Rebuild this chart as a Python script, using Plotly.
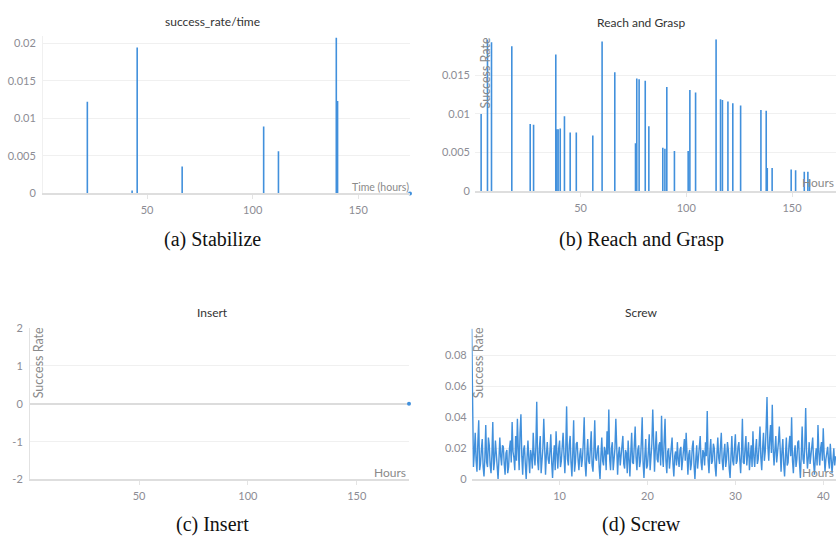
import plotly.graph_objects as go

# ---------------- data ----------------
# (a) Stabilize: spikes (hour, success rate)
a_hours = [21.7, 42.9, 45.3, 66.6, 105.2, 112.2, 139.6, 140.2]
a_rate = [0.0122, 0.0004, 0.0194, 0.0036, 0.0089, 0.0056, 0.0207, 0.0123]
a_end_hour = [174.5]
a_end_rate = [0.0]

# (b) Reach and Grasp
b_hours = [3.0, 6.0, 7.9, 17.5, 26.2, 27.8, 38.3, 38.8, 39.4, 40.4, 42.4, 45.1, 48.0,
           55.8, 60.2, 66.2, 76.0, 76.6, 77.7, 80.6, 82.3, 88.9, 89.9, 90.8, 94.4,
           100.9, 101.7, 104.4, 114.1, 116.2, 117.1, 119.7, 122.0, 125.7, 135.3,
           137.8, 138.3, 140.6, 149.6, 151.7, 155.8, 157.5, 158.3]
b_rate = [0.0100, 0.0197, 0.0193, 0.0188, 0.0087, 0.0086, 0.0177, 0.0080, 0.0080, 0.0081,
          0.0097, 0.0076, 0.0076, 0.0072, 0.0194, 0.0154, 0.0062, 0.0146, 0.0145, 0.0143,
          0.0084, 0.0056, 0.0055, 0.0135, 0.0052, 0.0052, 0.0131, 0.0128, 0.0197, 0.0119,
          0.0118, 0.0116, 0.0114, 0.0111, 0.0105, 0.0104, 0.0030, 0.0030, 0.0028, 0.0027,
          0.0025, 0.0025, 0.0015]

# (c) Insert
c_hours = [174.0]
c_rate = [0.0]

# (d) Screw: sampled every 0.1 hours (one row per hour)
d_rate = [
    0.097, 0.030, 0.008, 0.017, 0.030, 0.012, 0.005, 0.024, 0.038, 0.006,
    0.010, 0.019, 0.026, 0.008, 0.002, 0.014, 0.035, 0.011, 0.008, 0.027,
    0.022, 0.009, 0.004, 0.016, 0.037, 0.006, 0.012, 0.025, 0.018, 0.007,
    0.000, 0.013, 0.027, 0.015, 0.009, 0.022, 0.021, 0.010, 0.003, 0.017,
    0.019, 0.004, 0.008, 0.020, 0.025, 0.011, 0.037, 0.018, 0.014, 0.006,
    0.028, 0.012, 0.039, 0.020, 0.006, 0.030, 0.042, 0.015, 0.003, 0.019,
    0.022, 0.010, 0.000, 0.014, 0.025, 0.013, 0.004, 0.019, 0.015, 0.007,
    0.030, 0.016, 0.009, 0.021, 0.050, 0.012, 0.006, 0.020, 0.028, 0.004,
    0.012, 0.020, 0.039, 0.008, 0.003, 0.016, 0.024, 0.013, 0.010, 0.018,
    0.029, 0.011, 0.001, 0.014, 0.022, 0.006, 0.031, 0.017, 0.007, 0.020,
    0.025, 0.008, 0.012, 0.021, 0.030, 0.016, 0.004, 0.019, 0.047, 0.013,
    0.009, 0.022, 0.028, 0.011, 0.002, 0.017, 0.038, 0.005, 0.011, 0.023,
    0.024, 0.013, 0.006, 0.016, 0.020, 0.008, 0.013, 0.024, 0.040, 0.010,
    0.002, 0.015, 0.026, 0.012, 0.010, 0.020, 0.031, 0.009, 0.005, 0.018,
    0.038, 0.014, 0.012, 0.019, 0.022, 0.008, 0.000, 0.015, 0.027, 0.012,
    0.009, 0.021, 0.018, 0.006, 0.031, 0.016, 0.045, 0.013, 0.006, 0.020,
    0.024, 0.006, 0.011, 0.020, 0.039, 0.012, 0.003, 0.016, 0.021, 0.009,
    0.014, 0.023, 0.028, 0.010, 0.007, 0.019, 0.017, 0.004, 0.025, 0.013,
    0.002, 0.017, 0.030, 0.011, 0.010, 0.022, 0.034, 0.014, 0.006, 0.019,
    0.022, 0.008, 0.012, 0.024, 0.040, 0.011, 0.001, 0.015, 0.026, 0.007,
    0.009, 0.018, 0.029, 0.006, 0.014, 0.023, 0.045, 0.012, 0.005, 0.020,
    0.031, 0.013, 0.011, 0.022, 0.024, 0.009, 0.041, 0.016, 0.008, 0.025,
    0.039, 0.012, 0.004, 0.018, 0.020, 0.007, 0.013, 0.022, 0.027, 0.010,
    0.002, 0.015, 0.018, 0.009, 0.024, 0.013, 0.008, 0.019, 0.021, 0.006,
    0.011, 0.019, 0.026, 0.012, 0.030, 0.014, 0.003, 0.016, 0.019, 0.006,
    0.010, 0.021, 0.025, 0.009, 0.000, 0.013, 0.022, 0.007, 0.014, 0.024,
    0.028, 0.011, 0.006, 0.019, 0.017, 0.009, 0.024, 0.015, 0.044, 0.012,
    0.004, 0.018, 0.026, 0.010, 0.012, 0.023, 0.020, 0.008, 0.002, 0.016,
    0.027, 0.014, 0.010, 0.021, 0.030, 0.012, 0.006, 0.017, 0.023, 0.008,
    0.013, 0.024, 0.019, 0.007, 0.001, 0.015, 0.028, 0.012, 0.009, 0.020,
    0.029, 0.010, 0.012, 0.021, 0.024, 0.013, 0.004, 0.017, 0.039, 0.011,
    0.010, 0.020, 0.028, 0.009, 0.015, 0.024, 0.006, 0.014, 0.022, 0.008,
    0.031, 0.015, 0.008, 0.019, 0.026, 0.010, 0.013, 0.022, 0.034, 0.014,
    0.006, 0.020, 0.030, 0.012, 0.018, 0.033, 0.053, 0.021, 0.012, 0.026,
    0.035, 0.017, 0.048, 0.020, 0.009, 0.019, 0.028, 0.011, 0.016, 0.024,
    0.034, 0.012, 0.005, 0.018, 0.026, 0.010, 0.002, 0.015, 0.027, 0.009,
    0.011, 0.022, 0.028, 0.015, 0.040, 0.012, 0.004, 0.017, 0.022, 0.008,
    0.013, 0.024, 0.025, 0.010, 0.001, 0.016, 0.034, 0.013, 0.010, 0.021,
    0.046, 0.018, 0.007, 0.014, 0.024, 0.010, 0.016, 0.025, 0.027, 0.011,
    0.003, 0.014, 0.020, 0.009, 0.035, 0.017, 0.009, 0.020, 0.024, 0.012,
    0.033, 0.016, 0.005, 0.013, 0.018, 0.021, 0.012, 0.007, 0.023, 0.014,
    0.004, 0.012, 0.020, 0.009, 0.015,
]
d_hours = [round(i * 0.1, 1) for i in range(len(d_rate))]

titles = ["success_rate/time", "Reach and Grasp", "Insert", "Screw"]
captions = ["(a) Stabilize", "(b) Reach and Grasp", "(c) Insert", "(d) Screw"]

# ---------------- figure ----------------
W, H = 836, 546
BLUE = "#4190dc"
TICKC = "#8c8c94"
GRID = "#f0f0f0"


def px(x):
    return x / W


def py(y):
    return 1 - y / H


def spikes(hs, vs):
    xs, ys = [], []
    for h, v in zip(hs, vs):
        xs += [h, h, None]
        ys += [0, v, None]
    return xs, ys


fig = go.Figure()

ax, ay = spikes(a_hours, a_rate)
fig.add_trace(go.Scatter(x=ax, y=ay, mode="lines", line=dict(color=BLUE, width=1.6),
                         xaxis="x", yaxis="y", hoverinfo="skip"))
fig.add_trace(go.Scatter(x=a_end_hour, y=a_end_rate, mode="markers",
                         marker=dict(color=BLUE, size=4), cliponaxis=False,
                         xaxis="x", yaxis="y"))

bx, by = spikes(b_hours, b_rate)
fig.add_trace(go.Scatter(x=bx, y=by, mode="lines", line=dict(color=BLUE, width=1.6),
                         xaxis="x2", yaxis="y2", hoverinfo="skip"))

fig.add_trace(go.Scatter(x=c_hours, y=c_rate, mode="markers",
                         marker=dict(color=BLUE, size=4), cliponaxis=False,
                         xaxis="x3", yaxis="y3"))

fig.add_trace(go.Scatter(x=d_hours, y=d_rate, mode="lines", line=dict(color=BLUE, width=1.4),
                         xaxis="x4", yaxis="y4", hoverinfo="skip"))

tickfont = dict(family="Lato", size=11, color=TICKC)


def xax(dom, rng, tv, anchor):
    return dict(domain=dom, range=rng, tickvals=tv, showgrid=False, zeroline=False,
                showline=True, linecolor="#dedede", linewidth=1.5, ticks="outside",
                ticklen=4, tickcolor="#e4e4e4", tickfont=tickfont, anchor=anchor,
                layer="above traces", ticklabelstandoff=2)


def yax(dom, rng, dtick, anchor, line=False, tickvals=None, ticktext=None):
    d = dict(domain=dom, range=rng, showgrid=True, gridcolor=GRID, zeroline=False,
             showline=line, linecolor="#e2e2e2", ticks="", tickfont=tickfont,
             anchor=anchor, ticklabelstandoff=4)
    if tickvals is not None:
        d.update(tickvals=tickvals, ticktext=ticktext)
    else:
        d.update(dtick=dtick, tick0=0)
    return d


fig.update_layout(
    width=W, height=H, margin=dict(l=0, r=0, t=0, b=0),
    paper_bgcolor="white", plot_bgcolor="white", showlegend=False,
    xaxis=xax([px(43), px(410)], [0.7, 174.5], [50, 100, 150], "y"),
    yaxis=yax([py(191), py(30)], [0, 0.0209], 0.005, "x", line=True),
    xaxis2=xax([px(475), px(836)], [0.1, 170.8], [50, 100, 150], "y2"),
    yaxis2=yax([py(188.5), py(33)], [0, 0.0197], 0.005, "x2"),
    xaxis3=xax([px(30), px(409)], [-0.1, 174.0], [50, 100, 150], "y3"),
    yaxis3=yax([py(484), py(329)], [-2, 2], 1, "x3", line=True,
               tickvals=[-2, -1, 0, 1, 2], ticktext=["-2", "-1", "0", "1", "2"]),
    xaxis4=xax([px(471.7), px(836)], [0, 41.45], [10, 20, 30, 40], "y4"),
    yaxis4=yax([py(484), py(329)], [0, 0.0973], 0.02, "x4"),
)
fig.update_layout(yaxis3=dict(zeroline=True, zerolinecolor="#dcdcdc", zerolinewidth=2))
fig.update_layout(yaxis=dict(linecolor="#f0f0f0"))

ann = []
title_pos = [(212, 15), (641, 16), (212, 313), (641, 313)]
for t, (x, y) in zip(titles, title_pos):
    ann.append(dict(text=t, x=px(x), y=py(y), xref="paper", yref="paper", showarrow=False,
                    xanchor="center", yanchor="middle",
                    font=dict(family="Lato", size=12, color="#333333")))
cap_pos = [(212, 238), (641, 238), (212, 530), (641, 530)]
for t, (x, y) in zip(captions, cap_pos):
    ann.append(dict(text=t, x=px(x), y=py(y), xref="paper", yref="paper", showarrow=False,
                    xanchor="center", yanchor="middle",
                    font=dict(family="Liberation Serif", size=20, color="#111111")))
# axis labels drawn inside plots
lab = [("Time (hours)", 380, 184, 0, 10.5), ("Hours", 818, 180, 0, 12),
       ("Hours", 390, 477, 0, 12), ("Hours", 818, 477, 0, 12),
       ("Success Rate", 485, 67, -90, 12.5), ("Success Rate", 38, 365, -90, 12.5),
       ("Success Rate", 478, 365, -90, 12.5)]
for t, x, y, ang, s in lab:
    ann.append(dict(text=t, x=px(x), y=py(y), xref="paper", yref="paper", showarrow=False,
                    xanchor="center", yanchor="middle", textangle=ang,
                    font=dict(family="Lato", size=s, color="#8a8a8a")))
fig.update_layout(annotations=ann)

fig.write_html("out.html", config={"displayModeBar": False},
               post_script="document.body.style.margin='0';document.body.style.padding='0';")
